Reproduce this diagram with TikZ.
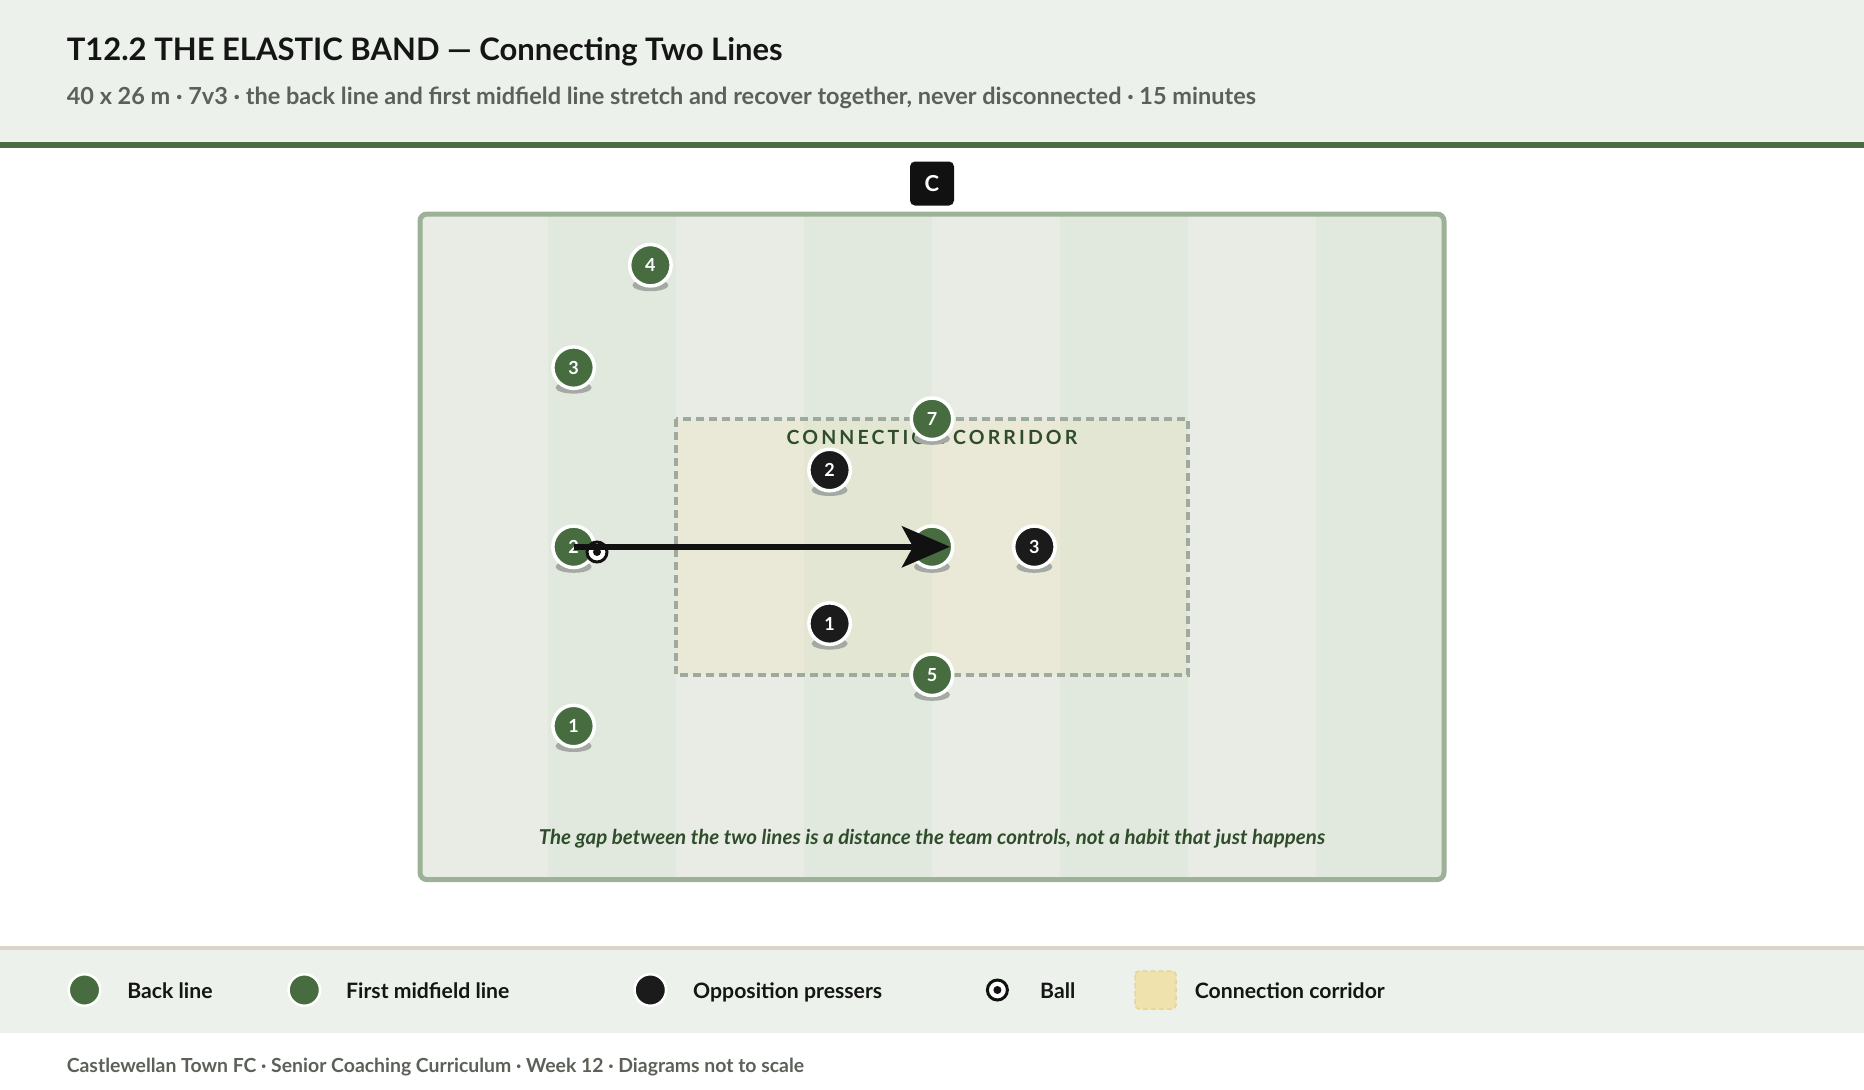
\documentclass[tikz,border=0pt]{standalone}
\usepackage{fontspec}
\setmainfont{Lato}
\newfontfamily\spacedfont[LetterSpace=16]{Lato}
\usetikzlibrary{arrows.meta}
\definecolor{hdrbg}{HTML}{ECF1EB}
\definecolor{rulegreen}{HTML}{4A6B43}
\definecolor{titleink}{HTML}{151515}
\definecolor{subink}{HTML}{5B6158}
\definecolor{pitchline}{HTML}{9CB197}
\definecolor{stripeA}{HTML}{E9ECE5}
\definecolor{stripeB}{HTML}{E1E8DE}
\definecolor{corrfill}{HTML}{EFDFA5}
\definecolor{corrline}{HTML}{9EAA9C}
\definecolor{darkgreen}{HTML}{2F4D2B}
\definecolor{teamgreen}{HTML}{476C3F}
\definecolor{oppblack}{HTML}{1B1B1B}
\definecolor{ink}{HTML}{111111}
\definecolor{shadowc}{HTML}{A5A9A3}
\definecolor{legrule}{HTML}{D9D3C9}
\definecolor{swatchfill}{HTML}{F0E2AC}
\definecolor{swatchline}{HTML}{E6D594}
\newcommand\plr[5]{%
  \fill[shadowc] (#2,#3+20) ellipse (18 and 6);
  \node[#4] (#1) at (#2,#3) {#5};}
\begin{document}
\begin{tikzpicture}[x=1pt,y=-1pt,
  player/.style={circle, draw=white, line width=3.5pt, minimum size=41.5pt, inner sep=0pt,
     text=white, font=\bfseries\fontsize{18}{18}\selectfont},
  greenp/.style={player, fill=teamgreen},
  blackp/.style={player, fill=oppblack},
  legdot/.style={circle, draw=white, line width=2.5pt, minimum size=31.5pt, inner sep=0pt},
  ballst/.style={circle, draw=ink, line width=3pt, fill=white, minimum size=20pt, inner sep=0pt,
     path picture={\fill[ink] (path picture bounding box.center) circle (4pt);}},
  legtext/.style={anchor=base west, inner sep=0pt, text=titleink, font=\bfseries\fontsize{21.2}{21.2}\selectfont},
]
\useasboundingbox (0,0) rectangle (1864,1090);
\fill[white] (0,0) rectangle (1864,1090);
% header
\fill[hdrbg] (0,0) rectangle (1864,142);
\fill[rulegreen] (0,142) rectangle (1864,148);
\node[anchor=base west, inner sep=0pt, text=titleink, font=\bfseries\fontsize{31}{31}\selectfont] (title) at (66.6,60.7)
  {T12.2 THE ELASTIC BAND — Connecting Two Lines};
\node[anchor=base west, inner sep=0pt, text=subink, font=\bfseries\fontsize{23.5}{23.5}\selectfont] (subtitle) at (66.6,104.7)
  {40 x 26 m · 7v3 · the back line and first midfield line stretch and recover together, never disconnected · 15 minutes};
% coach
\node[fill=ink, rounded corners=5pt, minimum width=44pt, minimum height=44pt, inner sep=0pt,
  text=white, font=\bfseries\fontsize{22}{22}\selectfont] (coach) at (932,183.5) {C};
% pitch
\begin{scope}
\clip[rounded corners=7pt] (420,214) rectangle (1444,879.6);
\foreach \i in {0,...,7}{
  \pgfmathtruncatemacro{\odd}{mod(\i,2)}
  \ifnum\odd=0 \fill[stripeA] (420+128*\i,214) rectangle ++(128,665.6);
  \else \fill[stripeB] (420+128*\i,214) rectangle ++(128,665.6); \fi
}
\end{scope}
\draw[pitchline, line width=5pt, rounded corners=7pt] (420,214) rectangle (1444,879.6);
% corridor
\fill[corrfill, opacity=0.2] (676,418.8) rectangle (1188,674.8);
\draw[corrline, line width=3.5pt, dash pattern=on 8pt off 5pt] (676,418.8) rectangle (1188,674.8);
\node[anchor=base, inner sep=0pt, text=darkgreen, font=\spacedfont\bfseries\fontsize{19.5}{19.5}\selectfont] (corrlabel) at (932,444.5)
  {CONNECTION CORRIDOR};
\node[anchor=base, inner sep=0pt, text=darkgreen, font=\bfseries\itshape\fontsize{20.5}{20.5}\selectfont] (note) at (932,844.5)
  {The gap between the two lines is a distance the team controls, not a habit that just happens};
% players
\plr{g4}{650.4}{265.2}{greenp}{4}
\plr{g3}{573.6}{367.6}{greenp}{3}
\plr{g7}{932}{418.8}{greenp}{7}
\plr{b2}{829.6}{470}{blackp}{2}
\plr{g2}{573.6}{546.8}{greenp}{2}
\plr{g6}{932}{546.8}{greenp}{}
\plr{b3}{1034.4}{546.8}{blackp}{3}
\plr{b1}{829.6}{623.6}{blackp}{1}
\plr{g5}{932}{674.8}{greenp}{5}
\plr{g1}{573.6}{726}{greenp}{1}
% ball and pass
\node[ballst] (ball) at (597,552) {};
\draw[ink, line width=6pt, shorten >=4.5pt, -{Stealth[length=48pt,width=41pt,inset=11pt]}] (g2.center) -- (g6.east);
% legend
\fill[hdrbg] (0,948) rectangle (1864,1033);
\fill[legrule] (0,946) rectangle (1864,950);
\node[legdot, fill=teamgreen] (l1) at (84.5,990) {};
\node[legtext] (t1) at (127.2,998.7) {Back line};
\node[legdot, fill=teamgreen] (l2) at (304.3,990) {};
\node[legtext] (t2) at (346,998.7) {First midfield line};
\node[legdot, fill=oppblack] (l3) at (650.3,990) {};
\node[legtext] (t3) at (693,998.7) {Opposition pressers};
\node[ballst] (l4) at (997.4,990) {};
\node[legtext] (t4) at (1040,998.7) {Ball};
\draw[swatchline, fill=swatchfill, line width=1.5pt, dash pattern=on 5pt off 3pt, rounded corners=4pt] (1135,971) rectangle (1176,1009);
\node[legtext] (t5) at (1194.7,998.7) {Connection corridor};
% footer
\node[anchor=base west, inner sep=0pt, text=subink, font=\bfseries\fontsize{19.4}{19.4}\selectfont] (footer) at (66.6,1072.7)
  {Castlewellan Town FC · Senior Coaching Curriculum · Week 12 · Diagrams not to scale};
\end{tikzpicture}
\end{document}
